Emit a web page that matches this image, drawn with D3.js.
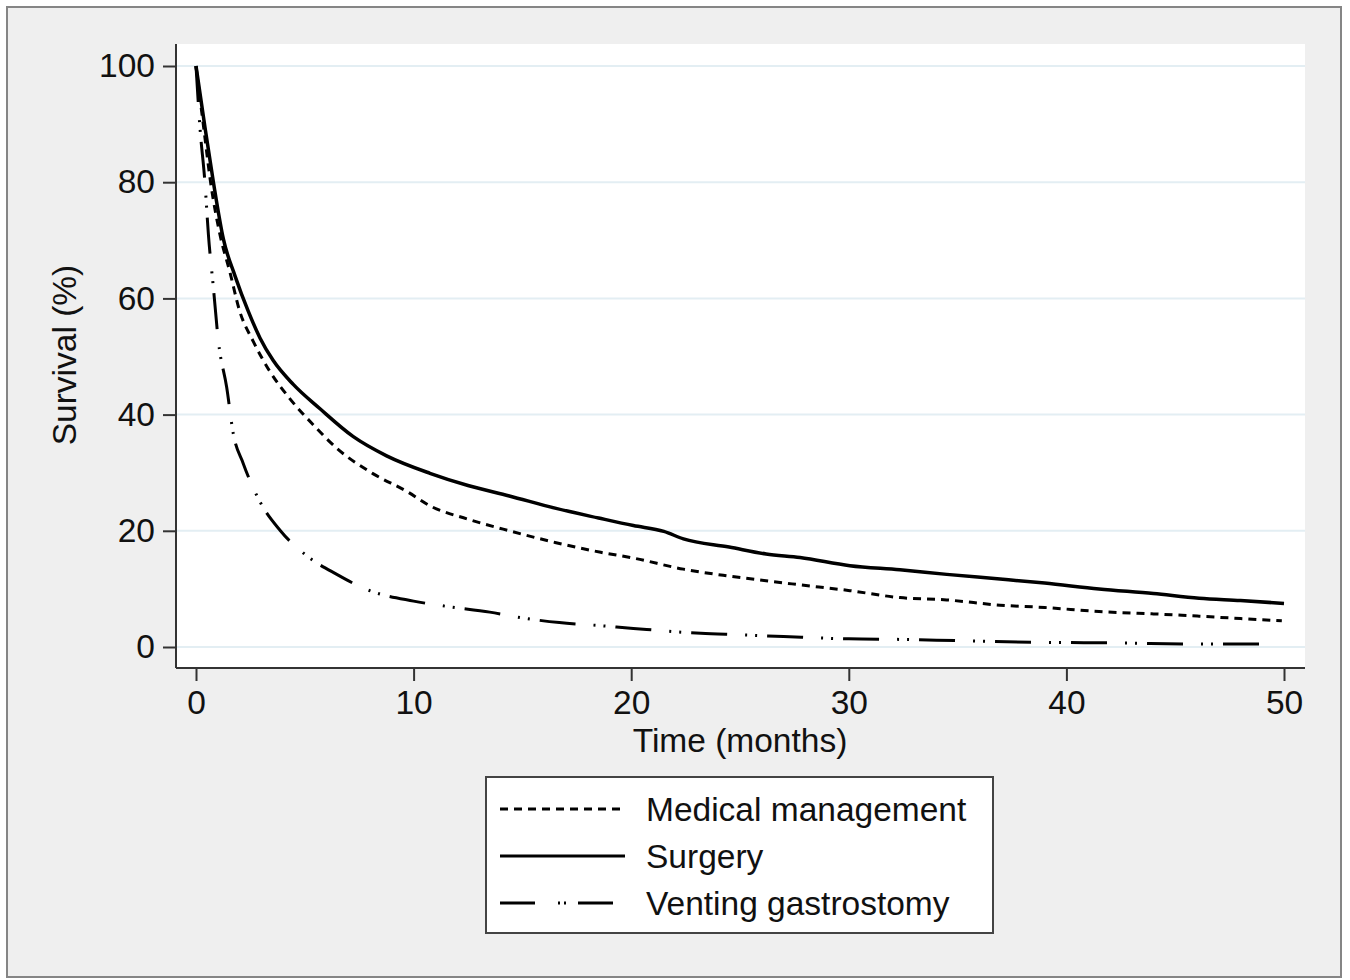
<!DOCTYPE html>
<html lang="en">
<head>
<meta charset="UTF-8">
<title>Survival by treatment</title>
<script src="https://cdn.jsdelivr.net/npm/d3@7/dist/d3.min.js"></script>
<style>
    body { margin: 0; background: #fff; }
    svg { font-family: "Liberation Sans", Arial, sans-serif; }
</style>
</head>
<body>
<div id="chart"></div>
<script>
// time (months) and survival (%)
var medicalTime = [0, 0.35, 0.67, 1.1, 1.56, 2.0, 2.63, 3.4, 4.3, 5.4, 6.47, 8.15, 9.68, 10.75, 12.5, 14.4, 16.5, 18.6, 20.1, 22.4, 24.3, 26.2, 27.76, 30.05, 32.35, 34.5, 36.95, 39, 41.5, 44, 46.1, 48, 49.9];
var medicalSurv = [100, 89.5, 80, 71, 64.5, 57.9, 52.6, 47.4, 42.8, 38.2, 34.2, 29.8, 26.8, 24.3, 22.0, 20.0, 18.0, 16.3, 15.3, 13.4, 12.3, 11.4, 10.7, 9.7, 8.5, 8.1, 7.2, 6.8, 6.1, 5.7, 5.3, 4.9, 4.5];

var surgeryTime = [0, 0.41, 0.8, 1.26, 1.8, 2.4, 2.94, 3.55, 4.47, 5.7, 7.23, 8.76, 10.75, 12.5, 14.4, 16.5, 18.5, 20.1, 21.5, 22.4, 24.5, 26.2, 27.76, 30.05, 32.35, 34.5, 36.95, 39, 41.5, 44, 46.1, 48, 50];
var surgerySurv = [100, 89.5, 80, 70.2, 63.8, 57.8, 53.2, 49.3, 45.2, 41.0, 36.2, 32.9, 29.9, 27.8, 26.0, 23.9, 22.2, 20.9, 19.9, 18.6, 17.2, 16.0, 15.4, 14.0, 13.3, 12.5, 11.7, 11.0, 10.0, 9.2, 8.4, 8.0, 7.5];

var ventingTime = [0, 0.18, 0.41, 0.57, 0.8, 1.03, 1.41, 1.71, 2.17, 2.94, 3.86, 5.16, 6.47, 7.84, 10, 11.5, 13.5, 15, 16.7, 18.5, 20.1, 23.2, 25, 27.0, 30, 32.5, 35, 38.8, 42.5, 46, 49.1];
var ventingSurv = [100, 89.5, 80, 71, 61.8, 52.6, 44.7, 36.8, 31.6, 25, 20.1, 15.5, 12.5, 9.9, 7.9, 7.0, 6.0, 5.0, 4.2, 3.7, 3.2, 2.35, 2.1, 1.8, 1.4, 1.3, 1.1, 0.8, 0.7, 0.5, 0.5];

var seriesNames = ["Medical management", "Surgery", "Venting gastrostomy"];
var xTicks = [0, 10, 20, 30, 40, 50];
var yTicks = [0, 20, 40, 60, 80, 100];

var width = 1350, height = 980;
var plot = {left: 176, right: 1305, top: 44, bottom: 668};
var fontSize = 33.5;

var svg = d3.select("#chart").append("svg")
    .attr("width", width)
    .attr("height", height);

// outer frame
svg.append("rect")
    .attr("x", 7).attr("y", 7)
    .attr("width", 1334).attr("height", 970)
    .attr("fill", "#efefef")
    .attr("stroke", "#858585")
    .attr("stroke-width", 2);

// plot background
svg.append("rect")
    .attr("x", plot.left).attr("y", plot.top)
    .attr("width", plot.right - plot.left)
    .attr("height", plot.bottom - plot.top)
    .attr("fill", "#fff");

var x = d3.scaleLinear().domain([0, 50]).range([196, 1284]);
var y = d3.scaleLinear().domain([0, 100]).range([647, 66]);

// gridlines
svg.append("g").selectAll("line")
    .data(yTicks)
    .enter().append("line")
    .attr("x1", plot.left).attr("x2", plot.right)
    .attr("y1", function(d) { return y(d); })
    .attr("y2", function(d) { return y(d); })
    .attr("stroke", "#e3eef3")
    .attr("stroke-width", 2);

// axes
var yAxis = svg.append("g")
    .attr("transform", "translate(" + plot.left + ",0)")
    .call(d3.axisLeft(y).tickValues(yTicks).tickSize(13).tickPadding(8));
var xAxis = svg.append("g")
    .attr("transform", "translate(0," + plot.bottom + ")")
    .call(d3.axisBottom(x).tickValues(xTicks).tickSize(13).tickPadding(10));

[yAxis, xAxis].forEach(function(a) {
    a.select(".domain").remove();
    a.selectAll("line").attr("stroke", "#333").attr("stroke-width", 2);
    a.selectAll("text").attr("font-size", fontSize).attr("fill", "#111")
        .attr("font-family", "Liberation Sans, Arial, sans-serif");
});
xAxis.selectAll("text").attr("dy", "0.7em");

svg.append("line")
    .attr("x1", plot.left).attr("x2", plot.left)
    .attr("y1", plot.top).attr("y2", plot.bottom)
    .attr("stroke", "#333").attr("stroke-width", 2);
svg.append("line")
    .attr("x1", plot.left).attr("x2", plot.right)
    .attr("y1", plot.bottom).attr("y2", plot.bottom)
    .attr("stroke", "#333").attr("stroke-width", 2);

// axis titles
svg.append("text")
    .attr("x", 740).attr("y", 752)
    .attr("text-anchor", "middle")
    .attr("font-size", fontSize).attr("fill", "#111")
    .text("Time (months)");
svg.append("text")
    .attr("transform", "translate(76,355) rotate(-90)")
    .attr("text-anchor", "middle")
    .attr("font-size", fontSize).attr("fill", "#111")
    .text("Survival (%)");

// curves
var styles = [
    {dash: "8,6"},
    {dash: null},
    {dash: "36,18,2,8,2,10"}
];
var series = [
    d3.zip(medicalTime, medicalSurv),
    d3.zip(surgeryTime, surgerySurv),
    d3.zip(ventingTime, ventingSurv)
];

var line = d3.line()
    .x(function(d) { return x(d[0]); })
    .y(function(d) { return y(d[1]); })
    .curve(d3.curveMonotoneX);

svg.append("g").selectAll("path")
    .data(series)
    .enter().append("path")
    .attr("d", line)
    .attr("fill", "none")
    .attr("stroke", "#000")
    .attr("stroke-width", function(d, i) { return i === 1 ? 3.5 : 3; })
    .attr("stroke-dasharray", function(d, i) { return styles[i].dash; });

// legend
var legend = svg.append("g");
legend.append("rect")
    .attr("x", 486).attr("y", 777)
    .attr("width", 507).attr("height", 156)
    .attr("fill", "#fff")
    .attr("stroke", "#444")
    .attr("stroke-width", 2);

var legendDash = ["8,6", null, "35,23,2,4,2,12"];
seriesNames.forEach(function(name, i) {
    var ly = 809 + i * 47;
    legend.append("line")
        .attr("x1", 500).attr("x2", 625)
        .attr("y1", ly).attr("y2", ly)
        .attr("stroke", "#000")
        .attr("stroke-width", 3)
        .attr("stroke-dasharray", legendDash[i]);
    legend.append("text")
        .attr("x", 646).attr("y", ly + 12)
        .attr("font-size", fontSize).attr("fill", "#111")
        .text(name);
});
</script>
</body>
</html>
